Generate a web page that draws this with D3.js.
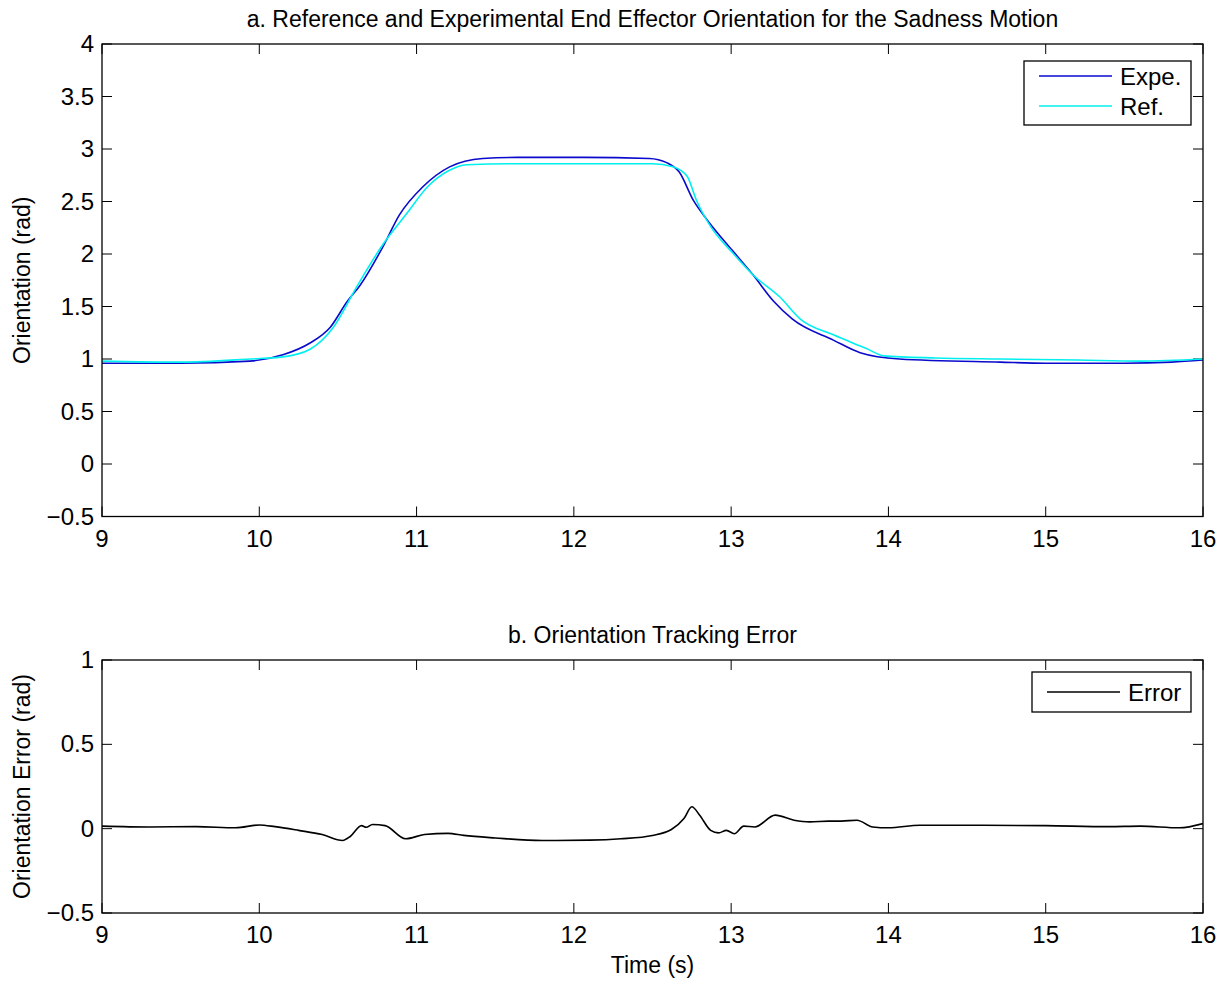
<html>
  <head>
    <script src="https://d3js.org/d3.v7.min.js"></script>
    <style>
      body { margin: 0; background: white; }
      text { font-family: "Liberation Sans", Arial, Helvetica, sans-serif; fill: black; }
      .frame { fill: none; stroke: black; stroke-width: 1.3; }
      .tick-line { stroke: black; stroke-width: 1; }
    </style>
  </head>
  <body>
    <svg id="chart" width="1228" height="981"></svg>
    <script>
      // time ticks shared by both panels
      var xTicks = [9, 10, 11, 12, 13, 14, 15, 16];
      var topYTicks = [-0.5, 0, 0.5, 1, 1.5, 2, 2.5, 3, 3.5, 4];
      var bottomYTicks = [-0.5, 0, 0.5, 1];

      // experimental orientation (rad)
      var expeTime = [9.0, 9.5, 9.94, 10.15, 10.32, 10.45, 10.56, 10.64, 10.79, 10.89, 11.04, 11.21, 11.42, 11.64, 12.06, 12.48, 12.59, 12.67, 12.76, 12.85, 13.01, 13.14, 13.27, 13.39, 13.65, 13.82, 14.07, 14.71, 15.0, 15.5, 15.8, 16.0];
      var expeVal = [0.96, 0.96, 0.98, 1.04, 1.15, 1.30, 1.55, 1.70, 2.08, 2.37, 2.64, 2.83, 2.91, 2.92, 2.92, 2.91, 2.87, 2.78, 2.51, 2.32, 2.03, 1.80, 1.55, 1.38, 1.18, 1.06, 1.00, 0.97, 0.96, 0.96, 0.97, 0.99];

      // reference orientation (rad)
      var refTime = [9.0, 9.5, 9.94, 10.15, 10.32, 10.47, 10.62, 10.79, 10.94, 11.07, 11.2, 11.32, 11.6, 12.0, 12.5, 12.63, 12.72, 12.78, 12.87, 13.01, 13.14, 13.31, 13.44, 13.65, 13.86, 13.97, 14.3, 14.71, 15.2, 15.6, 16.0];
      var refVal = [0.98, 0.97, 1.00, 1.02, 1.09, 1.30, 1.69, 2.10, 2.39, 2.64, 2.79, 2.85, 2.86, 2.86, 2.86, 2.83, 2.74, 2.51, 2.26, 2.01, 1.80, 1.59, 1.38, 1.23, 1.10, 1.03, 1.01, 1.00, 0.99, 0.98, 1.00];

      // tracking error (rad)
      var errTime = [9, 9.3, 9.6, 9.85, 10.0, 10.1, 10.25, 10.4, 10.53, 10.58, 10.65, 10.68, 10.72, 10.8, 10.93, 11.05, 11.2, 11.3, 11.5, 11.8, 12.1, 12.3, 12.5, 12.62, 12.7, 12.75, 12.8, 12.87, 12.92, 12.97, 13.02, 13.08, 13.15, 13.28, 13.4, 13.5, 13.62, 13.7, 13.8, 13.9, 14.0, 14.2, 14.6, 15.0, 15.4, 15.6, 15.85, 16];
      var errVal = [0.015, 0.01, 0.012, 0.005, 0.022, 0.012, -0.01, -0.035, -0.07, -0.045, 0.018, 0.008, 0.025, 0.018, -0.06, -0.035, -0.028, -0.04, -0.055, -0.07, -0.068, -0.06, -0.04, -0.005, 0.06, 0.13, 0.08, -0.01, -0.025, -0.01, -0.03, 0.015, 0.01, 0.08, 0.05, 0.04, 0.045, 0.045, 0.05, 0.01, 0.005, 0.02, 0.02, 0.018, 0.012, 0.015, 0.005, 0.03];

      var svg = d3.select('#chart');
      var left = 102, right = 1203;
      var tickLen = 10;

      var x = d3.scaleLinear().domain([9, 16]).range([left, right]);

      function zip(ts, vs) { return ts.map(function(t, i) { return [t, vs[i]]; }); }

      function panel(top, bottom, yDomain, yTicks, title, yLabel, series, legend) {
        var y = d3.scaleLinear().domain(yDomain).range([bottom, top]);
        var g = svg.append('g');

        g.append('defs').append('clipPath').attr('id', 'clip' + top)
          .append('rect').attr('x', left).attr('y', top).attr('width', right - left).attr('height', bottom - top);

        // ticks on all four sides, pointing inwards
        var ax = g.append('g');
        ax.selectAll('.xb').data(xTicks).enter().append('line').attr('class', 'tick-line')
          .attr('x1', x).attr('x2', x).attr('y1', bottom).attr('y2', bottom - tickLen);
        ax.selectAll('.xt').data(xTicks).enter().append('line').attr('class', 'tick-line')
          .attr('x1', x).attr('x2', x).attr('y1', top).attr('y2', top + tickLen);
        ax.selectAll('.yl').data(yTicks).enter().append('line').attr('class', 'tick-line')
          .attr('x1', left).attr('x2', left + tickLen).attr('y1', y).attr('y2', y);
        ax.selectAll('.yr').data(yTicks).enter().append('line').attr('class', 'tick-line')
          .attr('x1', right).attr('x2', right - tickLen).attr('y1', y).attr('y2', y);

        ax.selectAll('.xlab').data(xTicks).enter().append('text')
          .attr('x', x).attr('y', bottom + 30).attr('text-anchor', 'middle')
          .style('font-size', '24px').text(function(d) { return d; });
        ax.selectAll('.ylab').data(yTicks).enter().append('text')
          .attr('x', left - 8).attr('y', function(d) { return y(d) + 8; }).attr('text-anchor', 'end')
          .style('font-size', '24px').text(function(d) { return d < 0 ? '\u2212' + Math.abs(d) : d; });

        var line = d3.line().x(function(d) { return x(d[0]); }).y(function(d) { return y(d[1]); })
          .curve(d3.curveMonotoneX);
        series.forEach(function(s) {
          g.append('path').attr('d', line(s.data)).attr('fill', 'none')
            .attr('stroke', s.color).attr('stroke-width', 1.6)
            .attr('clip-path', 'url(#clip' + top + ')');
        });

        g.append('rect').attr('class', 'frame').attr('x', left).attr('y', top)
          .attr('width', right - left).attr('height', bottom - top);

        g.append('text').attr('x', (left + right) / 2).attr('y', top - 17).attr('text-anchor', 'middle')
          .style('font-size', '23px').text(title);
        g.append('text').attr('transform', 'translate(30,' + (top + bottom) / 2 + ') rotate(-90)')
          .attr('text-anchor', 'middle').style('font-size', '23px').text(yLabel);

        // legend box
        var lg = g.append('g');
        lg.append('rect').attr('x', legend.x).attr('y', legend.y).attr('width', legend.w)
          .attr('height', legend.h).attr('fill', 'white').attr('stroke', 'black').attr('stroke-width', 1.3);
        series.forEach(function(s, i) {
          var ly = legend.y + 15 + i * 30 + (series.length === 1 ? 5 : 0);
          lg.append('line').attr('x1', legend.x + 15).attr('x2', legend.x + 88)
            .attr('y1', ly).attr('y2', ly).attr('stroke', s.color).attr('stroke-width', 1.3);
          lg.append('text').attr('x', legend.x + 96).attr('y', ly + 9)
            .style('font-size', '24px').text(s.name);
        });
        return y;
      }

      panel(44, 516.5, [-0.5, 4], topYTicks,
        'a. Reference and Experimental End Effector Orientation for the Sadness Motion',
        'Orientation (rad)',
        [{ name: 'Expe.', color: '#0a0acc', data: zip(expeTime, expeVal) },
         { name: 'Ref.', color: '#00f0f0', data: zip(refTime, refVal) }],
        { x: 1024, y: 61, w: 167, h: 64 });

      panel(660, 913, [-0.5, 1], bottomYTicks,
        'b. Orientation Tracking Error',
        'Orientation Error (rad)',
        [{ name: 'Error', color: 'black', data: zip(errTime, errVal) }],
        { x: 1032, y: 672, w: 159, h: 40 });

      svg.append('text').attr('x', (left + right) / 2).attr('y', 973).attr('text-anchor', 'middle')
        .style('font-size', '23px').text('Time (s)');
    </script>
  </body>
</html>
